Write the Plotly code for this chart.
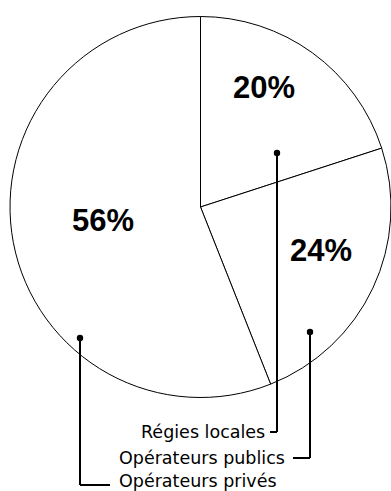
import plotly.graph_objects as go

labels = ["Régies locales", "Opérateurs publics", "Opérateurs privés"]
values = [20, 24, 56]

W, H = 391, 491

def px(x):
    return x / W

def py(y):
    return 1 - y / H

fig = go.Figure()
fig.add_trace(go.Pie(
    labels=labels, values=values, sort=False, direction="clockwise", rotation=0,
    textinfo="none", hoverinfo="skip", showlegend=False,
    marker=dict(colors=["white"] * 3, line=dict(color="black", width=1)),
    domain=dict(x=[px(10), 1], y=[py(398), py(16)]),
))

# percentage labels (layout positions)
pct_pos = [(264, 88), (321, 250), (103, 220)]
annotations = []
for v, (x, y) in zip(values, pct_pos):
    annotations.append(dict(x=px(x), y=py(y), xref="paper", yref="paper", text=f"{v}%",
                            showarrow=False, xanchor="center", yanchor="middle",
                            font=dict(family="Liberation Sans", size=31, color="black", weight="bold")))

# leader lines: dot, vertical, horizontal tick ; label placement
leaders = [
    dict(dot=(277, 153), bottom=432, hx=270, tx=267, anchor="right"),
    dict(dot=(310, 332), bottom=458, hx=293, tx=287, anchor="right"),
    dict(dot=(80, 338), bottom=485, hx=110, tx=117, anchor="left"),
]
shapes = []
for lab, L in zip(labels, leaders):
    dx, dy = L["dot"]
    shapes.append(dict(type="line", xref="paper", yref="paper", x0=px(dx), y0=py(dy), x1=px(dx), y1=py(L["bottom"]),
                       line=dict(color="black", width=2), layer="above"))
    shapes.append(dict(type="line", xref="paper", yref="paper", x0=px(dx), y0=py(L["bottom"]), x1=px(L["hx"]), y1=py(L["bottom"]),
                       line=dict(color="black", width=2), layer="above"))
    r = 3.2
    shapes.append(dict(type="circle", xref="paper", yref="paper", x0=px(dx - r), x1=px(dx + r), y0=py(dy - r), y1=py(dy + r),
                       fillcolor="black", line=dict(color="black", width=0), layer="above"))
    ty = L["bottom"] - (4 if L["anchor"] == "left" else 0)
    annotations.append(dict(x=px(L["tx"]), y=py(ty), xref="paper", yref="paper", text=lab,
                            showarrow=False, xanchor=L["anchor"], yanchor="middle",
                            font=dict(family="DejaVu Sans", size=17.5, color="black")))

fig.update_layout(
    width=W, height=H, margin=dict(l=0, r=0, t=0, b=0),
    paper_bgcolor="white", plot_bgcolor="white",
    shapes=shapes, annotations=annotations,
)
fig.write_html("out.html")
